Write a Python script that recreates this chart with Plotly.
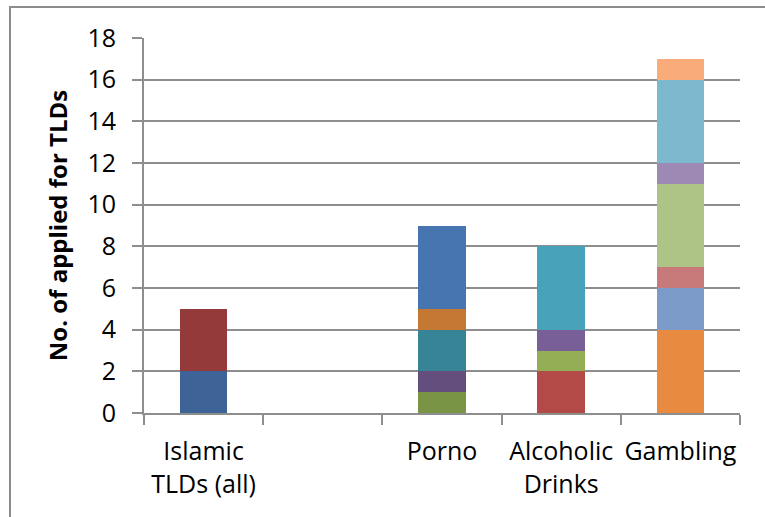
import plotly.graph_objects as go

# Category slots along the x axis (one slot is left empty)
categories = ["Islamic<br>TLDs (all)", " ", "Porno", "Alcoholic<br>Drinks", "Gambling"]

# Stacked segments for each category, bottom to top
islamic_values = [2, 3]
porno_values = [1, 1, 2, 1, 4]
alcohol_values = [2, 1, 1, 4]
gambling_values = [4, 2, 1, 4, 1, 4, 1]

islamic_colors = ["#3E6497", "#953A3A"]
porno_colors = ["#7A9446", "#644E7E", "#388497", "#C57734", "#4675B0"]
alcohol_colors = ["#B44A47", "#93AE55", "#785F98", "#48A3BA"]
gambling_colors = ["#E88B40", "#7D9BC8", "#C87A7A", "#AEC486", "#9E89B4", "#7DB9CE", "#F9AC7A"]

y_ticks = list(range(0, 19, 2))

stacks = [
    (categories[0], islamic_values, islamic_colors),
    (categories[2], porno_values, porno_colors),
    (categories[3], alcohol_values, alcohol_colors),
    (categories[4], gambling_values, gambling_colors),
]

FONT = "Open Sans"
GRID = "#8E8E8E"
L, R, T, B = 144, 25, 38, 104
W, H = 765, 517
plot_w = W - L - R
plot_h = H - T - B

fig = go.Figure()
for cat, values, colors in stacks:
    for v, c in zip(values, colors):
        fig.add_trace(go.Bar(
            x=[cat], y=[v], width=0.4,
            marker=dict(color=c, line=dict(width=0)),
            showlegend=False, hoverinfo="y",
        ))

fig.update_layout(
    width=W, height=H,
    margin=dict(l=L, r=R, t=T, b=B, autoexpand=False),
    barmode="stack",
    plot_bgcolor="white", paper_bgcolor="white",
    font=dict(family=FONT, size=25, color="black"),
    xaxis=dict(
        type="category",
        categoryorder="array", categoryarray=categories,
        range=[-0.5, len(categories) - 0.5],
        tickson="boundaries", ticks="outside", ticklen=10,
        tickcolor=GRID, tickwidth=2,
        showline=True, linecolor=GRID, linewidth=2,
        showgrid=False,
        tickangle=0, automargin=False,
        ticklabelstandoff=15,
        tickfont=dict(family=FONT, size=25),
    ),
    yaxis=dict(
        range=[0, 18], tickvals=y_ticks,
        ticks="outside", ticklen=10, tickcolor=GRID, tickwidth=2,
        showline=True, linecolor=GRID, linewidth=2,
        showgrid=True, gridcolor=GRID, gridwidth=2,
        zeroline=False, automargin=False,
        ticklabelstandoff=11,
        tickfont=dict(family=FONT, size=25),
        title=dict(text="<b>No. of applied for TLDs</b>",
                   font=dict(family=FONT, size=24), standoff=13),
    ),
    shapes=[dict(
        type="rect", xref="paper", yref="paper",
        x0=(10 - L) / plot_w, x1=1.2, y0=-0.5, y1=(H - B - 7) / plot_h,
        line=dict(color="#8C8C8C", width=2), fillcolor="rgba(0,0,0,0)",
        layer="below",
    )],
)

fig.write_html("out.html")
